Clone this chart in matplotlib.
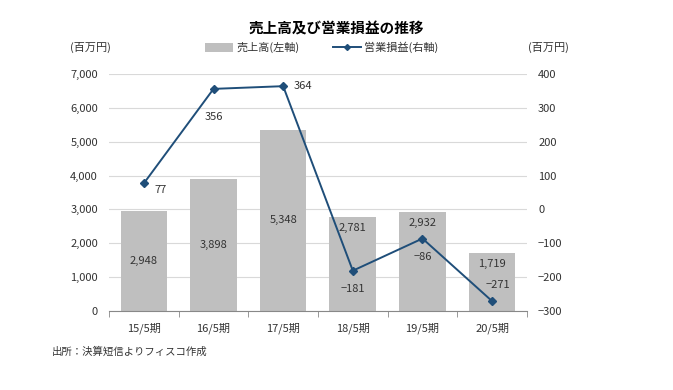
import matplotlib
matplotlib.use("Agg")
from matplotlib import pyplot as plt
from matplotlib.ticker import FuncFormatter, FixedLocator
from matplotlib.patches import Patch
from matplotlib.lines import Line2D

plt.rcParams['font.family'] = ['Noto Sans CJK JP', 'DejaVu Sans']

# データ
periods = ["15/5期", "16/5期", "17/5期", "18/5期", "19/5期", "20/5期"]
sales = [2948, 3898, 5348, 2781, 2932, 1719]
op_income = [77, 356, 364, -181, -86, -271]

bar_color = "#bfbfbf"
line_color = "#1f4e79"
text_color = "#333333"

fig = plt.figure(figsize=(6.73, 3.9), dpi=100)
ax = fig.add_axes([0.162, 0.2026, 0.621, 0.6077])
ax2 = ax.twinx()

x = list(range(len(periods)))
bars = ax.bar(x, sales, width=0.67, color=bar_color, zorder=2)
ax2.plot(x, op_income, color=line_color, marker="D", markersize=4,
         linewidth=1.4, zorder=3)

ax.set_xlim(-0.5, len(periods) - 0.5)
ax.set_ylim(0, 7000)
ax2.set_ylim(-300, 400)
ax.set_yticks(range(0, 7001, 1000))
ax2.set_yticks(range(-300, 401, 100))
ax.yaxis.set_major_formatter(FuncFormatter(lambda v, p: "{:,}".format(int(v))))
ax2.yaxis.set_major_formatter(FuncFormatter(
    lambda v, p: ("−{}".format(abs(int(v))) if v < 0 else str(int(v)))))

ax.grid(axis="y", color="#d9d9d9", linewidth=0.8, zorder=0)
ax.set_axisbelow(True)

for a in (ax, ax2):
    for s in ("top", "left", "right"):
        a.spines[s].set_visible(False)
    a.spines["bottom"].set_color("#888888")
    a.tick_params(axis="y", length=0, labelsize=8, colors=text_color, pad=8)
ax2.spines["bottom"].set_visible(False)

ax.set_xticks(x)
ax.set_xticklabels(periods)
ax.xaxis.set_minor_locator(FixedLocator([i - 0.5 for i in range(len(periods) + 1)]))
ax.tick_params(axis="x", which="major", length=0, labelsize=8,
               colors=text_color, pad=8)
ax.tick_params(axis="x", which="minor", length=4, color="#888888")

# 棒グラフのラベル
bar_label_y = [None, None, None, 2781 - 330, 2932 - 330, 1719 - 330]
for i, v in enumerate(sales):
    yy = v / 2 if bar_label_y[i] is None else bar_label_y[i]
    ax.text(i, yy, "{:,}".format(v), ha="center", va="center",
            fontsize=8, color=text_color, zorder=4)

# 折れ線のラベル
offsets = [(12, -5), (0, -20), (14, 0), (0, -13), (0, -13), (4, 12)]
for i, v in enumerate(op_income):
    lab = "−{}".format(abs(v)) if v < 0 else str(v)
    ax2.annotate(lab, (i, v), xytext=offsets[i], textcoords="offset points",
                 ha="center", va="center", fontsize=8, color=text_color)

fig.text(0.5, 0.928, "売上高及び営業損益の推移", ha="center", va="center",
         fontsize=10.5, fontweight="bold", color="#000000")
fig.text(0.135, 0.878, "(百万円)", ha="center", va="center", fontsize=8,
         color=text_color)
fig.text(0.815, 0.878, "(百万円)", ha="center", va="center", fontsize=8,
         color=text_color)

handles = [Patch(facecolor=bar_color, edgecolor="none"),
           Line2D([0], [0], color=line_color, marker="D", markersize=3,
                  linewidth=1.4)]
fig.legend(handles, ["売上高(左軸)", "営業損益(右軸)"], loc="center",
           bbox_to_anchor=(0.478, 0.878), ncol=2, frameon=False, fontsize=8,
           handlelength=2.5, handleheight=0.8, columnspacing=3,
           handletextpad=0.3, labelcolor=text_color)

fig.text(0.077, 0.098, "出所：決算短信よりフィスコ作成", ha="left", va="center",
         fontsize=7.5, color=text_color)

fig.savefig("out.png", dpi=100)
